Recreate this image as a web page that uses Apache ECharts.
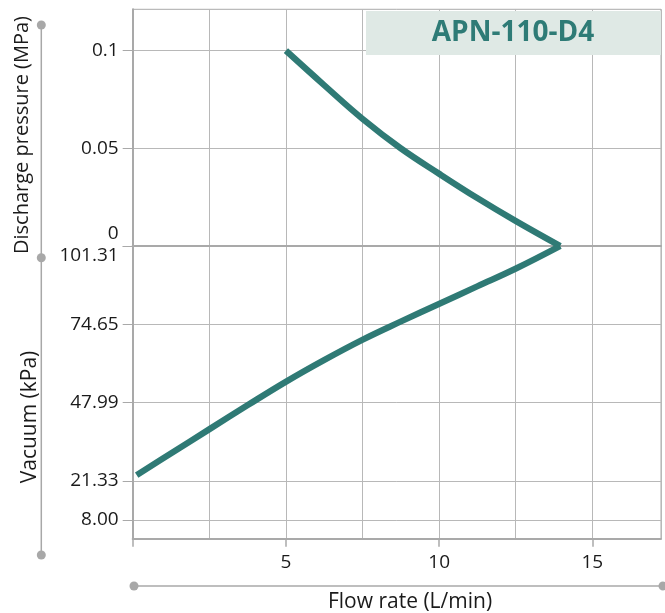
<!DOCTYPE html>
<html>
<head>
<meta charset="utf-8">
<script src="https://cdn.jsdelivr.net/npm/echarts@6/dist/echarts.min.js"></script>
<style>html,body{margin:0;padding:0;background:#fff;}#c{width:665px;height:613px;}</style>
</head>
<body>
<div id="c"></div>
<script>
// ---- data ----
const chartTitle = 'APN-110-D4';
const xTitle = 'Flow rate (L/min)';
const yTitleTop = 'Discharge pressure (MPa)';
const yTitleBottom = 'Vacuum (kPa)';

const flowTicks = [0, 5, 10, 15];
const pressureTicks = [0, 0.05, 0.1];
const vacuumTicks = [8.00, 21.33, 47.99, 74.65, 101.31];

// discharge side
const flowPressure = [5.0, 6.25, 7.5, 8.75, 10.0, 11.25, 12.5, 13.95];
const pressureMPa  = [0.1, 0.0823, 0.0651, 0.0500, 0.0370, 0.0245, 0.0128, 0];
// vacuum side
const flowVacuum = [0.13, 1.25, 2.5, 3.75, 5.0, 6.25, 7.5, 8.75, 10.0, 11.25, 12.5, 13.95];
const vacuumKPa  = [23.3, 30.7, 38.9, 47.1, 55.1, 62.5, 69.4, 75.6, 81.6, 87.6, 93.6, 101.31];

// ---- styles ----
const FONT = 'Open Sans';
const LINE = '#2f7a75';
const GRIDC = '#b8b8b8';
const AXC = '#a9a9a9';
const XMAX = 17.24;

const chart = echarts.init(document.getElementById('c'), null, {renderer: 'canvas'});

function xBase(grid) {
  return {
    type: 'value', gridIndex: grid, position: 'bottom', min: 0, max: XMAX, interval: 2.5,
    axisLine: {show: true, onZero: false, lineStyle: {color: AXC, width: 2}},
    axisTick: {show: false},
    axisLabel: {show: false},
    splitLine: {show: true, lineStyle: {color: GRIDC, width: 1}}
  };
}

const option = {
  animation: false,
  textStyle: {fontFamily: FONT},
  grid: [
    {left: 132.7, right: 4, top: 9.3, height: 236.7, show: true, borderColor: AXC, borderWidth: 1, backgroundColor: 'transparent'},
    {left: 132.7, right: 4, top: 246, height: 292.7, show: true, borderColor: AXC, borderWidth: 1, backgroundColor: 'transparent'}
  ],
  xAxis: [
    xBase(0),
    xBase(1),
    {
      type: 'value', gridIndex: 1, position: 'bottom', min: 0, max: XMAX,
      axisLine: {show: false, onZero: false},
      splitLine: {show: false},
      axisTick: {show: true, customValues: flowTicks, length: 8, lineStyle: {color: AXC, width: 1.5}},
      axisLabel: {show: true, customValues: flowTicks.filter(v => v > 0), margin: 14,
        color: '#1a1a1a', fontSize: 19, fontFamily: FONT}
    }
  ],
  yAxis: [
    {
      type: 'value', gridIndex: 0, min: 0, max: 0.1212,
      axisLine: {show: true, lineStyle: {color: AXC, width: 2}},
      axisTick: {show: true, customValues: pressureTicks, length: 10, lineStyle: {color: AXC, width: 1}},
      splitLine: {show: true, lineStyle: {color: GRIDC, width: 1}},
      axisLabel: {
        customValues: pressureTicks, margin: 14, color: '#1a1a1a', fontSize: 19, fontFamily: FONT,
        formatter: v => v === 0 ? '{up|0}' : String(v),
        rich: {up: {fontSize: 19, fontFamily: FONT, color: '#1a1a1a', padding: [0, 0, 24, 0]}}
      }
    },
    {
      type: 'value', gridIndex: 1, min: 1.64, max: 101.31,
      axisLine: {show: true, lineStyle: {color: AXC, width: 2}},
      axisTick: {show: true, customValues: vacuumTicks, length: 10, lineStyle: {color: AXC, width: 1}},
      splitLine: {show: true, lineStyle: {color: GRIDC, width: 1}},
      axisLabel: {
        customValues: vacuumTicks, margin: 14, color: '#1a1a1a', fontSize: 19, fontFamily: FONT,
        formatter: v => Math.abs(v - 101.31) < 1e-6 ? '{down|101.31}' : v.toFixed(2),
        rich: {down: {fontSize: 19, fontFamily: FONT, color: '#1a1a1a', padding: [20, 0, 0, 0]}}
      }
    }
  ],
  series: [
    {
      type: 'line', xAxisIndex: 0, yAxisIndex: 0, clip: false, smooth: 0.4,
      symbol: 'none', lineStyle: {color: LINE, width: 6.3, cap: 'butt', join: 'miter'},
      data: flowPressure.map((x, i) => [x, pressureMPa[i]]), z: 10
    },
    {
      type: 'line', xAxisIndex: 1, yAxisIndex: 1, clip: false, smooth: 0.4,
      symbol: 'none', lineStyle: {color: LINE, width: 6.3, cap: 'butt', join: 'miter'},
      data: flowVacuum.map((x, i) => [x, vacuumKPa[i]]), z: 10
    }
  ],
  graphic: [
    // title box
    {type: 'rect', left: 366, top: 11, shape: {width: 295, height: 44}, style: {fill: '#dfe9e5'}, z: 20},
    {type: 'text', x: 513, y: 33, z: 21, style: {text: chartTitle, fill: '#2e7b76', font: 'bold 28px "Open Sans"', align: 'center', verticalAlign: 'middle'}},
    // decorative vertical axis guide
    {type: 'line', shape: {x1: 41.3, y1: 25, x2: 41.3, y2: 555}, style: {stroke: '#a8a8a8', lineWidth: 1.5}},
    {type: 'circle', shape: {cx: 41.3, cy: 25, r: 4.5}, style: {fill: '#a8a8a8'}},
    {type: 'circle', shape: {cx: 41.3, cy: 257.7, r: 4.5}, style: {fill: '#a8a8a8'}},
    {type: 'circle', shape: {cx: 41.3, cy: 555, r: 4.5}, style: {fill: '#a8a8a8'}},
    // decorative horizontal axis guide
    {type: 'line', shape: {x1: 134, y1: 586, x2: 663, y2: 586}, style: {stroke: '#a8a8a8', lineWidth: 1.5}},
    {type: 'circle', shape: {cx: 134, cy: 586, r: 4.5}, style: {fill: '#a8a8a8'}},
    {type: 'circle', shape: {cx: 663, cy: 586, r: 4.5}, style: {fill: '#a8a8a8'}},
    // axis titles
    {type: 'text', x: 22, y: 135, rotation: Math.PI / 2, style: {text: yTitleTop, fill: '#1a1a1a', font: '20px "Open Sans"', align: 'center', verticalAlign: 'middle'}},
    {type: 'text', x: 30, y: 417, rotation: Math.PI / 2, style: {text: yTitleBottom, fill: '#1a1a1a', font: '21px "Open Sans"', align: 'center', verticalAlign: 'middle'}},
    {type: 'text', x: 410, y: 602, style: {text: xTitle, fill: '#1a1a1a', font: '21px "Open Sans"', align: 'center', verticalAlign: 'middle'}}
  ]
};
chart.setOption(option);
</script>
</body>
</html>
